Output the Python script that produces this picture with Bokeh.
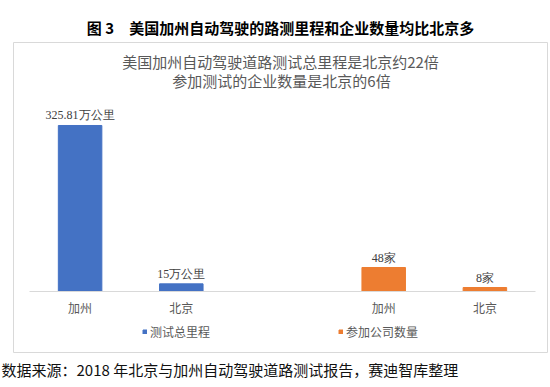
from bokeh.plotting import figure
from bokeh.models import (Range1d, ColumnDataSource, LabelSet, Label, Legend, LegendItem,
                          FixedTicker, Title)
from bokeh.embed import file_html
from bokeh.resources import INLINE

# ---- data ----
regions = ["加州", "北京"]
mileage = [325.81, 15]            # 万公里
mileage_labels = ["325.81万公里", "15万公里"]
companies = [48, 8]               # 家
company_labels = ["48家", "8家"]
series_names = ["测试总里程", "参加公司数量"]
main_title = "图 3\u3000美国加州自动驾驶的路测里程和企业数量均比北京多"
inner_title = ["美国加州自动驾驶道路测试总里程是北京约22倍", "参加测试的企业数量是北京的6倍"]
source_note = "数据来源：2018 年北京与加州自动驾驶道路测试报告，赛迪智库整理"

# slot positions (5 slots, middle one empty)
mileage_x = [1, 2]
company_x = [4, 5]
tick_pos = mileage_x + company_x
tick_labels = regions + regions

BLUE = "#4472C4"
ORANGE = "#ED7D31"
GREY_TXT = "#595959"
FONT = "Noto Sans CJK SC"

p = figure(width=550, height=387,
           x_range=Range1d(0.3419, 5.6186), y_range=Range1d(-119.73, 488.71),
           output_backend="svg", toolbar_location=None, tools="",
           y_axis_location=None,
           min_border_left=13, min_border_right=3, min_border_top=42, min_border_bottom=35)
p.extra_y_ranges = {"right": Range1d(-122, 498)}
p.outline_line_color = "#D9D9D9"
p.outline_line_width = 1
p.grid.visible = False
p.background_fill_color = "white"
p.border_fill_color = "white"

src_m = ColumnDataSource(dict(x=mileage_x, y=mileage, t=mileage_labels))
src_c = ColumnDataSource(dict(x=company_x, y=companies, t=company_labels))

r1 = p.vbar(x="x", top="y", bottom=0, width=0.43, source=src_m,
            fill_color=BLUE, line_color=BLUE)
r2 = p.vbar(x="x", top="y", bottom=0, width=0.43, source=src_c,
            fill_color=ORANGE, line_color=ORANGE, y_range_name="right")

for s, rn in ((src_m, "default"), (src_c, "right")):
    p.add_layout(LabelSet(x="x", y="y", text="t", source=s, y_range_name=rn,
                          text_align="center", text_baseline="middle", y_offset=10,
                          text_font=FONT, text_font_size="12px", text_color="#404040"))

ax = p.xaxis[0]
ax.fixed_location = 0
ax.bounds = (0.5, 5.5)
ax.ticker = FixedTicker(ticks=tick_pos)
ax.major_label_overrides = {k: v for k, v in zip(tick_pos, tick_labels)}
ax.axis_line_color = "#D9D9D9"
ax.major_tick_line_color = None
ax.minor_tick_line_color = None
ax.major_label_text_font = FONT
ax.major_label_text_font_size = "12px"
ax.major_label_text_color = GREY_TXT
ax.major_label_standoff = 2

legend = Legend(items=[LegendItem(label=series_names[0], renderers=[r1]),
                       LegendItem(label=series_names[1], renderers=[r2])],
                location=(129, 12), orientation="horizontal",
                glyph_width=5, glyph_height=5, label_standoff=3, spacing=128,
                padding=0, margin=0, border_line_color=None, background_fill_alpha=0,
                label_text_font=FONT, label_text_font_size="12px",
                label_text_color=GREY_TXT, label_height=14)
p.add_layout(legend)

# inner chart title (frame-relative screen units)
p.add_layout(Label(x=267, y=291, x_units="screen", y_units="screen", text=inner_title[0],
                   text_align="center", text_baseline="middle", text_font=FONT,
                   text_font_size="15px", text_color=GREY_TXT))
p.add_layout(Label(x=268, y=272, x_units="screen", y_units="screen", text=inner_title[1],
                   text_align="center", text_baseline="middle", text_font=FONT,
                   text_font_size="15px", text_color=GREY_TXT))

# figure caption above and source below the box
p.add_layout(Title(text=main_title, align="center", text_font=FONT, text_font_size="15px",
                   text_font_style="bold", text_color="#000000", standoff=9), "above")
p.add_layout(Title(text=source_note, align="left", offset=-12, text_font=FONT,
                   text_font_size="15px", text_font_style="normal",
                   text_color="#111111", standoff=8), "below")

open("out.html", "w").write(file_html(p, INLINE))
